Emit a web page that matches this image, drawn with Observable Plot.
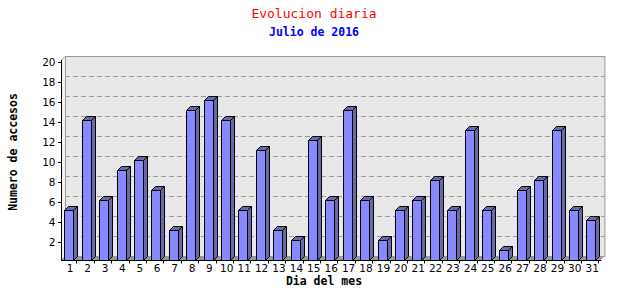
<!DOCTYPE html>
<html><head><meta charset="utf-8">
<script src="https://cdn.jsdelivr.net/npm/d3@7"></script>
<script src="https://cdn.jsdelivr.net/npm/@observablehq/plot@0.6"></script>
<style>
body{margin:0;background:#fff;}
#wrap{width:640px;height:300px;position:relative;overflow:hidden;}
.t{position:absolute;left:0;width:628px;text-align:center;font-family:"DejaVu Sans Mono",monospace;white-space:nowrap;}
.lab{position:absolute;font-family:"DejaVu Sans Mono",monospace;font-weight:bold;font-size:11.5px;color:#000;white-space:nowrap;}
</style></head><body>
<div id="wrap">
<div class="t" style="top:6px;color:#f00;font-size:13px;line-height:16px;">Evolucion diaria</div>
<div class="t" style="top:25px;color:#00f;font-size:11.5px;line-height:14px;font-weight:bold;">Julio de 2016</div>
<div id="chart" style="position:absolute;left:0;top:40px;"></div>
<div class="lab" id="ylab" style="left:13px;top:152px;transform:translate(-50%,-50%) rotate(-90deg);">Numero de accesos</div>
<div class="lab" style="left:324px;top:281px;transform:translate(-50%,-50%);">Dia del mes</div>
</div>
<script>
const days = [1,2,3,4,5,6,7,8,9,10,11,12,13,14,15,16,17,18,19,20,21,22,23,24,25,26,27,28,29,30,31];
const accesos = [5,14,6,9,10,7,3,15,16,14,5,11,3,2,12,6,15,6,2,5,6,8,5,13,5,1,7,8,13,5,4];
const yTicks = [2,4,6,8,10,12,14,16,18,20];
const gridTicks = [2,4,6,8,10,12,14,16,18];
const yMax = 20;

const data = days.map((d, i) => ({day: d, value: accesos[i]}));
const D = 4;
const NS = "http://www.w3.org/2000/svg";
function el(tag, attrs) {
  const e = document.createElementNS(NS, tag);
  for (const k in attrs) e.setAttribute(k, attrs[k]);
  return e;
}
function pts(a) { return a.map(p => p.join(",")).join(" "); }

function bandW(scales) {
  const b = scales.x.bandwidth;
  if (typeof b === "function") return b();
  if (typeof b === "number") return b;
  return scales.x(days[1]) - scales.x(days[0]);
}

// left wall and floor
function decor(index, scales, values, dims) {
  const g = el("g", {});
  const x0 = dims.marginLeft, x1 = dims.width - dims.marginRight;
  const yb = scales.y(0), yt = scales.y(yMax);
  g.appendChild(el("polygon", {points: pts([[x0, yt], [x0 + D, yt - D], [x0 + D, yb - D], [x0, yb]]), fill: "#f2f2f2"}));
  g.appendChild(el("line", {x1: x0 + D + 0.5, y1: yt - D, x2: x0 + D + 0.5, y2: yb - D, stroke: "#999"}));
  g.appendChild(el("line", {x1: x0, y1: yt + 0.5, x2: x0 + D, y2: yt - D + 0.5, stroke: "#999"}));
  g.appendChild(el("polygon", {points: pts([[x0, yb], [x0 + D, yb - D], [x1 + D, yb - D], [x1, yb]]), fill: "#999"}));
  return g;
}

// 3D bars
function bars3d(index, scales, values, dims) {
  const g = el("g", {});
  const bw = bandW(scales);
  for (const i of index) {
    const d = data[i];
    const xl = Math.round(scales.x(d.day) + bw * 0.19) + 0.5;
    const xr = xl + 9;
    const yt = Math.round(scales.y(d.value)) + 0.5;
    const yb = Math.round(scales.y(0)) + 0.5;
    g.appendChild(el("polygon", {points: pts([[xr, yt], [xr + D, yt - D], [xr + D, yb - D], [xr, yb]]), fill: "#6a6aa6", stroke: "#000"}));
    g.appendChild(el("polygon", {points: pts([[xl, yt], [xl + D, yt - D], [xr + D, yt - D], [xr, yt]]), fill: "#6a6aa6", stroke: "#000"}));
    g.appendChild(el("rect", {x: xl, y: yt, width: xr - xl, height: yb - yt, fill: "#8888ff", stroke: "#000"}));
  }
  return g;
}

// front axis lines and x ticks
function frontAxes(index, scales, values, dims) {
  const g = el("g", {});
  const x0 = dims.marginLeft, x1 = dims.width - dims.marginRight;
  const yb = Math.round(scales.y(0)) + 0.5, yt = scales.y(yMax);
  const bw = bandW(scales);
  g.appendChild(el("line", {x1: x0 + 0.5, y1: yt, x2: x0 + 0.5, y2: yb, stroke: "#000"}));
  g.appendChild(el("line", {x1: x0, y1: yb, x2: x1 + 1, y2: yb, stroke: "#000"}));
  for (const d of days) {
    const xt = Math.round(scales.x(d) + bw - 2) + 0.5;
    g.appendChild(el("line", {x1: xt, y1: yb, x2: xt, y2: yb + 3, stroke: "#000"}));
  }
  return g;
}

const chart = Plot.plot({
  width: 640,
  height: 260,
  marginLeft: 61,
  marginRight: 39.6,
  marginTop: 20,
  marginBottom: 40,
  style: {fontFamily: "'DejaVu Sans', sans-serif", fontSize: "10.5px", background: "transparent"},
  x: {type: "band", domain: days, padding: 0, round: false, label: null},
  y: {domain: [0, yMax], label: null},
  marks: [
    Plot.frame({fill: "#e8e8e8", stroke: "#999", dx: D, dy: -D}),
    Plot.ruleY(gridTicks, {stroke: "#999", strokeDasharray: "5,3", dx: D, dy: -D}),
    decor,
    Plot.barY(data, {x: "day", y: "value", render: bars3d}),
    frontAxes,
    Plot.axisY({ticks: yTicks, tickSize: 3, tickPadding: 3, dy: 2, label: null, fill: "#000"}),
    Plot.axisX({tickSize: 0, tickPadding: 4, label: null, fill: "#000"})
  ]
});
document.getElementById("chart").appendChild(chart);
</script>
</body></html>
